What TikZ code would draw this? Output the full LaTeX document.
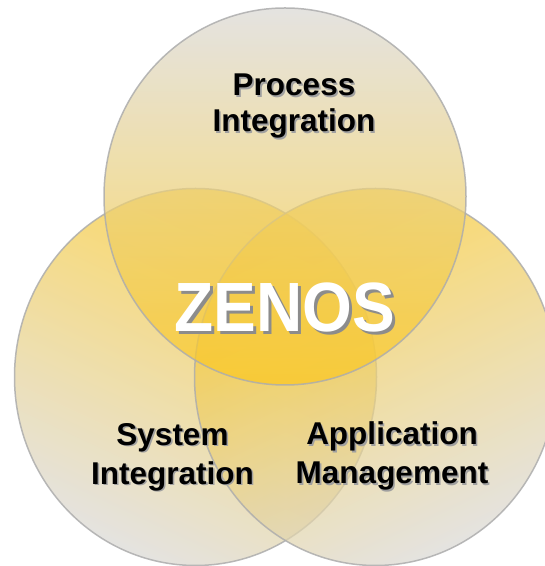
\documentclass[tikz,border=0pt]{standalone}
\usepackage{fontspec}
\setmainfont{Liberation Sans}
\definecolor{vgray}{HTML}{DAD8D4}
\definecolor{vyellow}{HTML}{FCC820}
\definecolor{vstroke}{HTML}{ADADAD}
\definecolor{tshadow}{HTML}{A0A0A0}
\definecolor{zshadow}{HTML}{8C8C8C}
\newcommand\stxt[1]{\makebox[0pt][l]{\kern1.6bp\raisebox{-1.6bp}{\textcolor{tshadow}{#1}}}#1}
\newcommand\ztxt[1]{\makebox[0pt][l]{\kern2.8bp\raisebox{-2.8bp}{\textcolor{zshadow}{#1}}}\textcolor{white}{#1}}
\begin{document}
\begin{tikzpicture}[x=1bp,y=1bp,
  venn/.style={fill opacity=0.72, draw=vstroke, draw opacity=0.85, line width=1.5bp},
  lbl/.style={inner sep=0pt, anchor=base, font=\bfseries\fontsize{31.5bp}{37bp}\selectfont},
  zlbl/.style={inner sep=0pt, anchor=base, font=\bfseries\fontsize{64bp}{70bp}\selectfont}]
\useasboundingbox (0,0) rectangle (545,566);
\clip (0,0) rectangle (545,566);
\coordinate (cl) at (195.5,189);
\coordinate (cr) at (375.5,189);
\coordinate (ct) at (285,369.5);
\shadedraw[venn, top color=vyellow, middle color=vyellow!55!vgray, bottom color=vgray, shading angle=-25] (cl) ellipse [x radius=181, y radius=188.5];
\shadedraw[venn, top color=vyellow, middle color=vyellow!55!vgray, bottom color=vgray, shading angle=25] (cr) ellipse [x radius=181, y radius=188.5];
\shadedraw[venn, top color=vgray, middle color=vgray!78!vyellow, bottom color=vyellow] (ct) ellipse [x radius=181, y radius=188.5];
\node[lbl] (p1) at (294,470.3) {\stxt{Process}};
\node[lbl] (p2) at (294,434.3) {\stxt{Integration}};
\node[lbl] (s1) at (172.5,120.7) {\stxt{System}};
\node[lbl] (s2) at (172.5,81.7) {\stxt{Integration}};
\node[lbl] (a1) at (392,121) {\stxt{Application}};
\node[lbl] (a2) at (392,82) {\stxt{Management}};
\node[zlbl] (z) at (285,234.3) {\scalebox{1}[1.09]{\ztxt{ZENOS}}};
\end{tikzpicture}
\end{document}
